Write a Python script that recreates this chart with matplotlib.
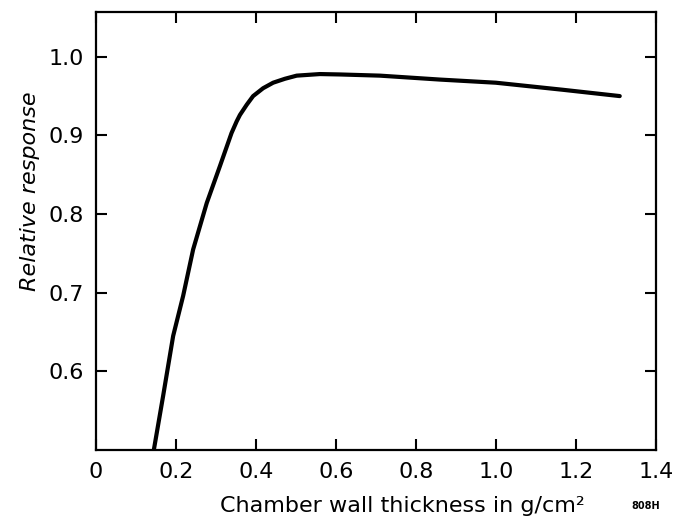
import matplotlib.pyplot as plt
import numpy as np

# values
thickness = [0.145, 0.168, 0.193, 0.218, 0.243, 0.277, 0.31, 0.339, 0.352, 0.36,
             0.377, 0.393, 0.418, 0.443, 0.4725, 0.502, 0.56, 0.61, 0.71, 0.86,
             1.0, 1.168, 1.31]
response = [0.501, 0.569, 0.645, 0.696, 0.755, 0.814, 0.861, 0.903, 0.918, 0.926,
            0.939, 0.950, 0.960, 0.967, 0.972, 0.976, 0.978, 0.9775, 0.976, 0.971,
            0.967, 0.958, 0.950]

xticks = [0, 0.2, 0.4, 0.6, 0.8, 1.0, 1.2, 1.4]
xticklabels = ['0', '0.2', '0.4', '0.6', '0.8', '1.0', '1.2', '1.4']
yticks = [0.6, 0.7, 0.8, 0.9, 1.0]
yticklabels = ['0.6', '0.7', '0.8', '0.9', '1.0']

fig = plt.figure(figsize=(6.76, 5.19), dpi=100)
ax = fig.add_axes([0.142, 0.133, 0.828, 0.844])

ax.plot(thickness, response, color='black', lw=3, solid_capstyle='round',
        solid_joinstyle='round')

ax.set_xlim(0, 1.4)
ax.set_ylim(0.5, 1.057)
ax.set_xticks(xticks)
ax.set_xticklabels(xticklabels)
ax.set_yticks(yticks)
ax.set_yticklabels(yticklabels)

ax.tick_params(direction='in', length=8, width=1.5, labelsize=16,
               top=True, right=True, pad=9)
for sp in ax.spines.values():
    sp.set_linewidth(1.6)

ax.set_xlabel('Chamber wall thickness in g/cm²', fontsize=16)
ax.xaxis.set_label_coords(0.548, -0.104)
ax.set_ylabel('Relative response', fontsize=16, style='italic')
ax.yaxis.set_label_coords(-0.10, 0.59)

fig.text(0.955, 0.02, '808H', fontsize=7, fontweight='bold', ha='center')

fig.savefig('out.png', dpi=100)
